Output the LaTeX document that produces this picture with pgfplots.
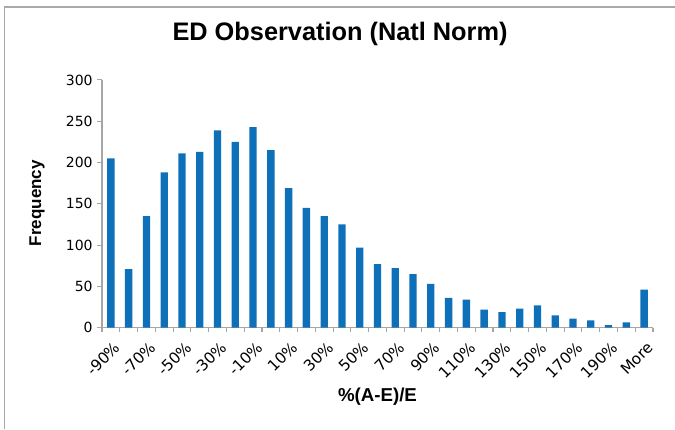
\documentclass[border=0pt]{standalone}
\usepackage{pgfplots}
\pgfplotsset{compat=1.18}
\usepackage{fontspec}
\setmainfont{Liberation Sans}
\newfontfamily\ticksfont{DejaVu Sans}
\definecolor{barblue}{HTML}{0F70BA}
\definecolor{axgray}{HTML}{A6A6A6}
\definecolor{framegray}{HTML}{A9A9A9}
\begin{document}
\begin{tikzpicture}[x=0.75pt,y=0.75pt]
\path[use as bounding box] (0,0) rectangle (675,429);
\draw[framegray,line width=1.1pt] (4.5,0) -- (4.5,422) -- (675,422);
\begin{axis}[
  at={(76.5pt,75.98pt)}, anchor=south west,
  scale only axis, width=413.25pt, height=185.8pt,
  xmin=-0.5, xmax=30.5, ymin=0, ymax=300,
  axis x line*=bottom, axis y line*=left,
  axis line style={axgray, line width=0.9pt},
  xtick={0,2,...,30},
  xticklabels={-90\%,-70\%,-50\%,-30\%,-10\%,10\%,30\%,50\%,70\%,90\%,110\%,130\%,150\%,170\%,190\%,More},
  minor xtick={-0.5,0.5,...,30.5},
  major x tick style={draw=none},
  minor x tick style={axgray, line width=0.8pt},
  minor tick length=3.5pt,
  ytick={0,50,...,300},
  major y tick style={axgray, line width=0.8pt},
  major tick length=3.5pt,
  tick align=outside,
  /pgf/number format/assume math mode=true,
  xticklabel style={rotate=45, anchor=east, font=\ticksfont\fontsize{11.5pt}{13pt}\selectfont, inner sep=0.5pt, yshift=-10pt, xshift=-2.5pt},
  yticklabel style={font=\ticksfont\fontsize{10.5pt}{12pt}\selectfont},
  title={ED Observation (Natl Norm)},
  title style={font=\bfseries\fontsize{19pt}{22pt}\selectfont, at={(rel axis cs:0.432,1.129)}, anchor=base},
  xlabel={\%(A-E)/E},
  xlabel style={font=\bfseries\fontsize{14pt}{16pt}\selectfont, at={(rel axis cs:0.5,-0.296)}, anchor=base},
  ylabel={Frequency},
  ylabel style={font=\bfseries\fontsize{12.75pt}{15pt}\selectfont, at={(rel axis cs:-0.118,0.503)}, anchor=center, rotate=0},
  clip=false,
]
\addplot[ybar, bar width=5.5pt, fill=barblue, draw=none] coordinates {
(0,205) (1,71) (2,135) (3,188) (4,211) (5,213) (6,239) (7,225) (8,243) (9,215)
(10,169) (11,145) (12,135) (13,125) (14,97) (15,77) (16,72) (17,65) (18,53) (19,36)
(20,34) (21,22) (22,19) (23,23) (24,27) (25,15) (26,11) (27,9) (28,3) (29,6.5) (30,46)
};
\end{axis}
\end{tikzpicture}
\end{document}
